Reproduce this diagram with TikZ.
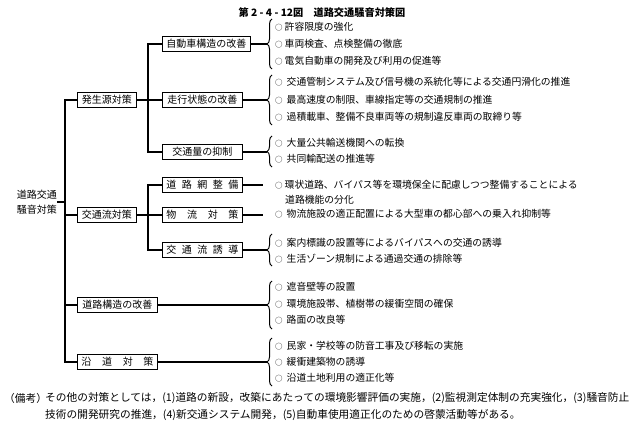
\documentclass[tikz,border=0pt]{standalone}
\usepackage{fontspec}
\setmainfont{Noto Sans CJK JP}
\usetikzlibrary{decorations.pathreplacing}
\newcommand{\mycirc}{{\fontsize{7.5}{7.5}\selectfont ○}}
\begin{document}
\begin{tikzpicture}[x=1pt,y=-1pt,
  box/.style={draw,line width=0.9pt,minimum height=15pt,inner sep=0pt,anchor=west,font=\fontsize{10}{12}\selectfont},
  conn/.style={line width=1.1pt},
  item/.style={anchor=west,inner sep=0pt,font=\fontsize{9.8}{12}\selectfont},
  note/.style={anchor=west,inner sep=0pt,font=\fontsize{10.7}{12}\selectfont},
  brc/.style={decorate,decoration={brace,amplitude=5pt},line width=1pt}
]
\useasboundingbox (0,0) rectangle (636,430);

% title
\node[font=\bfseries\fontsize{10.2}{12}\selectfont,inner sep=0pt] (title) at (322,13) {第 2 - 4 - 12図\quad 道路交通騒音対策図};

% root
\node[anchor=east,align=center,inner sep=0pt,font=\fontsize{10}{15}\selectfont] (root) at (57,202) {道路交通\\騒音対策};

% level 1
\node[box,minimum width=59pt] (A) at (77,100) {発生源対策};
\node[box,minimum width=59pt] (B) at (77,215) {交通流対策};
\node[box,minimum width=80pt] (C) at (77,305) {道路構造の改善};
\node[box,minimum width=80pt] (D) at (77,362) {\makebox[72pt][s]{沿\hfill 道\hfill 対\hfill 策}};

% level 2
\node[box,minimum width=88pt] (A1) at (162,44) {自動車構造の改善};
\node[box,minimum width=80pt] (A2) at (162,100) {走行状態の改善};
\node[box,minimum width=80pt] (A3) at (162,152) {交通量の抑制};
\node[box,minimum width=80pt] (B1) at (162,185) {\makebox[72pt][s]{道\hfill 路\hfill 網\hfill 整\hfill 備}};
\node[box,minimum width=80pt] (B2) at (162,215) {\makebox[72pt][s]{物\hfill 流\hfill 対\hfill 策}};
\node[box,minimum width=80pt] (B3) at (162,250) {\makebox[72pt][s]{交\hfill 通\hfill 流\hfill 誘\hfill 導}};

% trunk and branches
\coordinate (T) at (65,202);
\coordinate (VA) at (148,100);
\coordinate (VB) at (148,215);
\coordinate (BX) at (267,0);
\coordinate (DX) at (263,0);
\draw[conn] (root.east) -- (T);
\draw[conn] (A.west) -| (T) |- (D.west);
\draw[conn] (B.west) -- (B.west -| T);
\draw[conn] (C.west) -- (C.west -| T);
\draw[conn] (A.east) -- (A2.west);
\draw[conn] (A1.west) -| (VA) |- (A3.west);
\draw[conn] (B.east) -- (B2.west);
\draw[conn] (B1.west) -| (VB) |- (B3.west);

% connectors to braces
\draw[conn] (A1.east) -- (A1.east -| BX);
\draw[conn] (A2.east) -- (A2.east -| BX);
\draw[conn] (A3.east) -- (A3.east -| BX);
\draw[conn] (B1.east) -- (B1.east -| DX);
\draw[conn] (B2.east) -- (B2.east -| DX);
\draw[conn] (B3.east) -- (B3.east -| BX);
\draw[conn] (C.east) -- (C.east -| BX);
\draw[conn] (D.east) -- (D.east -| BX);

% braces
\draw[brc] (272,69) -- (272,19);
\draw[brc] (272,125) -- (272,75);
\draw[brc] (272,167) -- (272,136);
\draw[brc] (272,266) -- (272,234);
\draw[brc] (272,329) -- (272,281);
\draw[brc] (272,386) -- (272,338);

% items
\node[item] (i11) at (275,27) {\mycirc\hspace{2pt}許容限度の強化};
\node[item] (i12) at (275,44) {\mycirc\hspace{2pt}車両検査、点検整備の徹底};
\node[item] (i13) at (275,61) {\mycirc\hspace{2pt}電気自動車の開発及び利用の促進等};
\node[item] (i21) at (275,82) {\mycirc\hspace{4pt}交通管制システム及び信号機の系統化等による交通円滑化の推進};
\node[item] (i22) at (275,100) {\mycirc\hspace{4pt}最高速度の制限、車線指定等の交通規制の推進};
\node[item] (i23) at (275,117) {\mycirc\hspace{4pt}過積載車、整備不良車両等の規制違反車両の取締り等};
\node[item] (i31) at (275,143) {\mycirc\hspace{4pt}大量公共輸送機関への転換};
\node[item] (i32) at (275,159) {\mycirc\hspace{4pt}共同輸配送の推進等};
\node[item] (i41) at (275,185) {\mycirc\hspace{2pt}環状道路、バイパス等を環境保全に配慮しつつ整備することによる};
\node[item] (i42) at (285,200) {道路機能の分化};
\node[item] (i51) at (275,214) {\mycirc\hspace{4pt}物流施設の適正配置による大型車の都心部への乗入れ抑制等};
\node[item] (i61) at (275,243) {\mycirc\hspace{4pt}案内標識の設置等によるバイパスへの交通の誘導};
\node[item] (i62) at (275,259) {\mycirc\hspace{4pt}生活ゾーン規制による通過交通の排除等};
\node[item] (i71) at (275,287) {\mycirc\hspace{4pt}遮音壁等の設置};
\node[item] (i72) at (275,304) {\mycirc\hspace{4pt}環境施設帯、植樹帯の緩衝空間の確保};
\node[item] (i73) at (275,320) {\mycirc\hspace{4pt}路面の改良等};
\node[item] (i81) at (275,346) {\mycirc\hspace{4pt}民家・学校等の防音工事及び移転の実施};
\node[item] (i82) at (275,362) {\mycirc\hspace{4pt}緩衝建築物の誘導};
\node[item] (i83) at (275,378) {\mycirc\hspace{4pt}沿道土地利用の適正化等};

% note
\node[note] (bk) at (4,398) {（備考）};
\node[note] (n1) at (45,398) {その他の対策としては，(1)道路の新設，改築にあたっての環境影響評価の実施，(2)監視測定体制の充実強化，(3)騒音防止};
\node[note] (n2) at (45,415) {技術の開発研究の推進，(4)新交通システム開発，(5)自動車使用適正化のための啓蒙活動等がある。};
\end{tikzpicture}
\end{document}
